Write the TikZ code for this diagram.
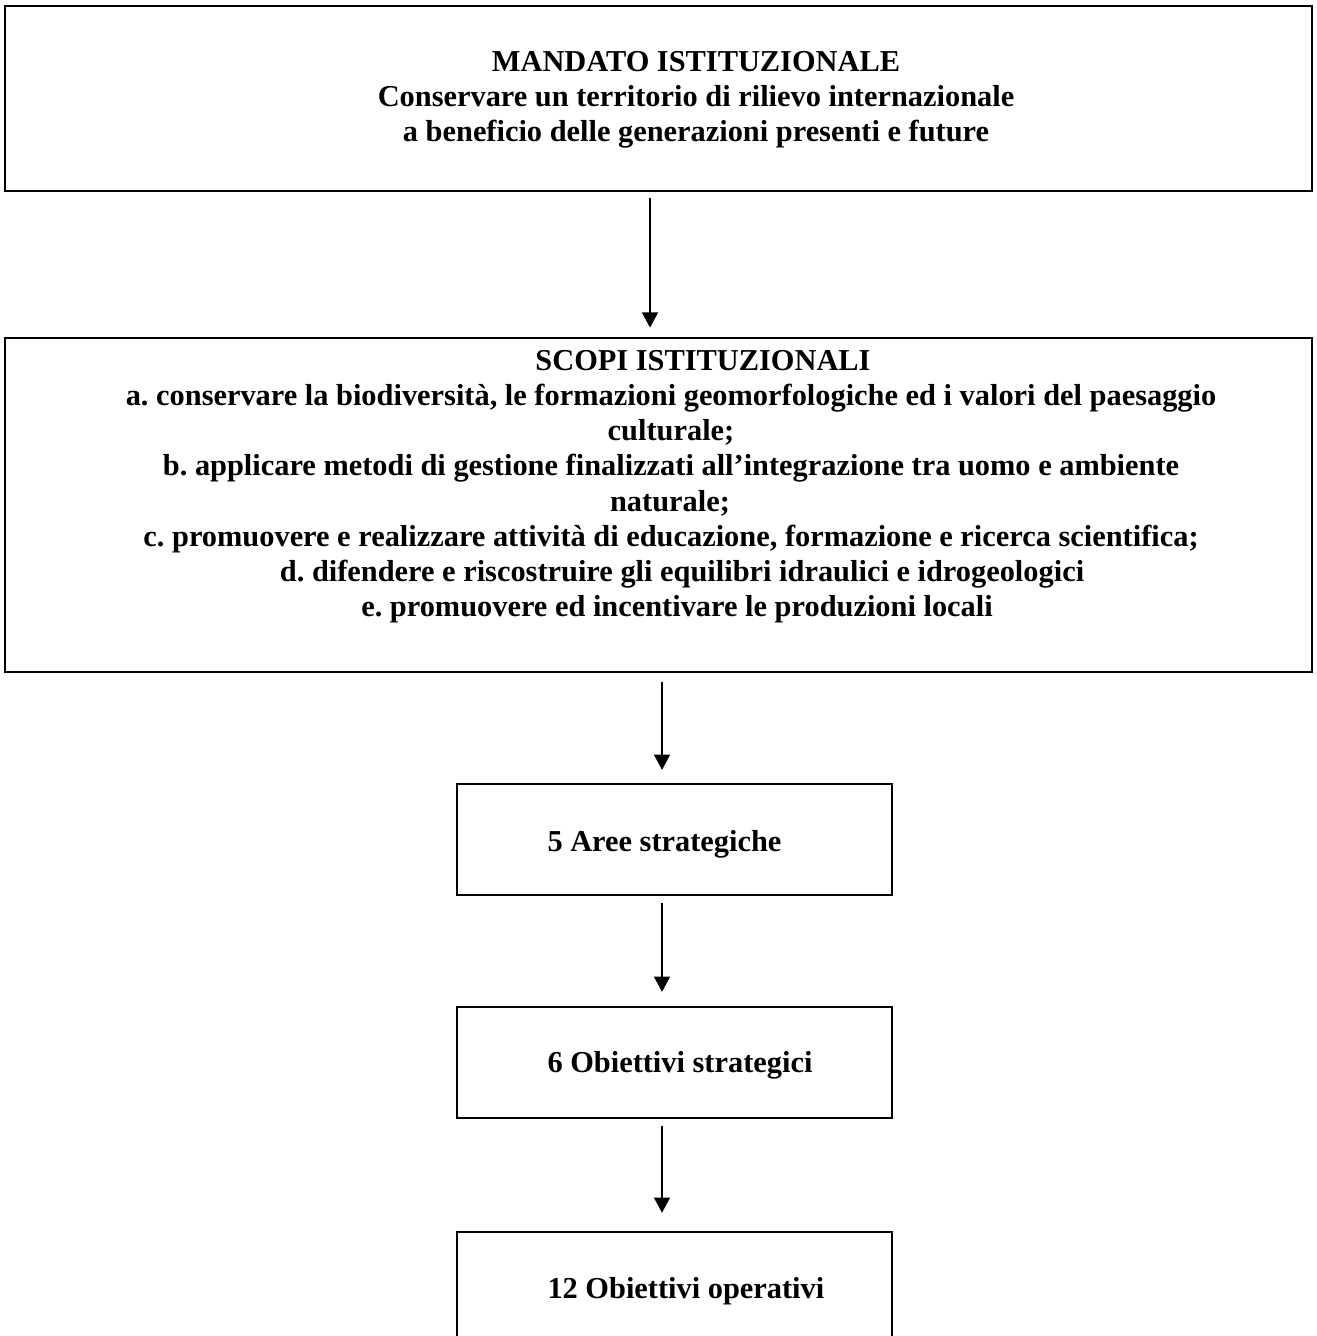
\documentclass[tikz,border=0pt]{standalone}
\usepackage{fontspec}
\setmainfont{Liberation Serif}
\usepackage{tikz}
\usetikzlibrary{arrows.meta}
\usetikzlibrary{calc}
\newcommand{\pxu}{0.395pt}
\frenchspacing
\tikzset{
   every path/.style={>={Triangle[width=6.3pt,length=6pt]}},
   box/.style={draw,rectangle,line width=1pt,inner sep=0pt},
   widebox/.style={box,minimum width=1307*\pxu},
   smallbox/.style={box,minimum width=435*\pxu,minimum height=111*\pxu},
   txt/.style={anchor=base,inner sep=0pt,font=\bfseries\fontsize{12}{13.8}\selectfont},
   ltxt/.style={txt,anchor=base west},
   flow/.style={->,line width=0.6pt},
}

\begin{document}
\begin{tikzpicture}[x=\pxu,y=-\pxu]
  \useasboundingbox (0,0) rectangle (1316,1336);

  \node[widebox, minimum height=185*\pxu] (mandato) at (658.5,  98.5) {};
  \node[widebox, minimum height=334*\pxu] (scopi)   at (658.5, 505)   {};
  \node[smallbox] (aree)   at (674.5,  839.5) {};
  \node[smallbox] (obstr)  at (674.5, 1062.5) {};
  \node[smallbox] (obop)   at (674.5, 1287.5) {};

  \node[txt] (mandato1) at (696,  72) {MANDATO ISTITUZIONALE};
  \node[txt] (mandato2) at (696, 107) {Conservare un territorio di rilievo internazionale};
  \node[txt] (mandato3) at (696, 142) {a beneficio delle generazioni presenti e future};

  \node[txt] (scopi0) at (703, 371) {SCOPI ISTITUZIONALI};
  \foreach \cx/\riga [count=\i] in {
      671/{a. conservare la biodiversità, le formazioni geomorfologiche ed i valori del paesaggio},
      671/{culturale;},
      671/{b. applicare metodi di gestione finalizzati all’integrazione tra uomo e ambiente},
      670/{naturale;},
      671/{c. promuovere e realizzare attività di educazione, formazione e ricerca scientifica;},
      682/{d. difendere e riscostruire gli equilibri idraulici e idrogeologici},
      677/{e. promuovere ed incentivare le produzioni locali}}
    \node[txt] (scopi\i) at (\cx, 371+35*\i) {\riga};

  \node[ltxt] (areeTxt)  at (547,  851) {5 Aree strategiche};
  \node[ltxt] (obstrTxt) at (547, 1072) {6 Obiettivi strategici};
  \node[ltxt] (obopTxt)  at (547, 1298) {12 Obiettivi operativi};

  \coordinate (colA) at (650, 0);
  \coordinate (colB) at (662, 0);

  \draw[flow, shorten <=2.4pt, shorten >=3.6pt] (mandato.south -| colA) -- (scopi.north -| colA);
  \draw[flow, shorten <=3.6pt, shorten >=5.1pt] (scopi.south -| colB)   -- (aree.north -| colB);
  \draw[flow, shorten <=2.8pt, shorten >=5.5pt] (aree.south -| colB)    -- (obstr.north -| colB);
  \draw[flow, shorten <=2.8pt, shorten >=7.1pt] (obstr.south -| colB)   -- (obop.north -| colB);
\end{tikzpicture}
\end{document}
